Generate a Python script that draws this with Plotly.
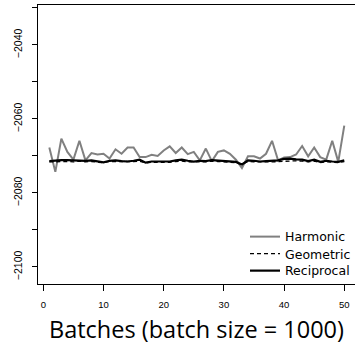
import plotly.graph_objects as go

batches = list(range(1, 51))
harmonic = [-2067.7, -2074.3, -2065.3, -2068.9, -2071.0, -2065.9, -2071.2, -2069.2, -2069.6, -2069.4,
            -2070.7, -2068.2, -2069.4, -2067.7, -2067.7, -2070.3, -2070.3, -2069.7, -2070.0, -2068.5,
            -2067.4, -2069.2, -2067.7, -2069.5, -2068.9, -2071.2, -2068.0, -2071.4, -2068.9, -2068.5,
            -2069.4, -2071.0, -2073.3, -2070.1, -2070.1, -2070.7, -2069.4, -2065.9, -2071.2, -2070.4,
            -2070.3, -2069.6, -2067.3, -2070.1, -2067.7, -2070.3, -2071.0, -2065.9, -2071.6, -2061.8]
geometric = [-2071.6, -2071.5, -2071.4, -2071.5, -2071.6, -2071.4, -2071.6, -2071.5, -2071.7, -2071.8,
             -2071.5, -2071.5, -2071.6, -2071.7, -2071.5, -2071.4, -2071.9, -2071.7, -2071.7, -2071.8,
             -2071.7, -2071.5, -2071.4, -2071.6, -2071.7, -2071.6, -2071.6, -2071.4, -2071.5, -2071.6,
             -2071.7, -2071.8, -2072.3, -2071.5, -2071.6, -2071.7, -2071.6, -2071.6, -2071.5, -2071.3,
             -2071.2, -2071.3, -2071.4, -2071.6, -2071.4, -2071.8, -2071.6, -2071.7, -2071.8, -2071.5]
reciprocal = [-2071.4, -2071.2, -2071.1, -2071.1, -2071.2, -2071.1, -2071.3, -2071.2, -2071.5, -2071.7,
              -2071.3, -2071.2, -2071.4, -2071.5, -2071.3, -2071.0, -2071.8, -2071.5, -2071.5, -2071.6,
              -2071.5, -2071.2, -2071.0, -2071.3, -2071.5, -2071.3, -2071.4, -2071.1, -2071.2, -2071.4,
              -2071.5, -2071.6, -2072.3, -2071.2, -2071.3, -2071.5, -2071.4, -2071.3, -2071.2, -2070.8,
              -2070.7, -2070.9, -2071.0, -2071.4, -2071.0, -2071.6, -2071.3, -2071.5, -2071.6, -2071.2]

x_ticks = [0, 10, 20, 30, 40, 50]
y_ticks = [-2100, -2090, -2080, -2070, -2060, -2050, -2040, -2030]
y_ticktext = ["\u22122100", "", "\u22122080", "", "\u22122060", "", "\u22122040", ""]

fig = go.Figure()
fig.add_trace(go.Scatter(x=batches, y=harmonic, mode="lines", name="Harmonic", legend="legend",
                         line=dict(color="#808080", width=2)))
fig.add_trace(go.Scatter(x=batches, y=geometric, mode="lines", name="Geometric", legend="legend2",
                         line=dict(color="black", width=1.3, dash="4px,3px")))
fig.add_trace(go.Scatter(x=batches, y=reciprocal, mode="lines", name="Reciprocal", legend="legend3",
                         line=dict(color="black", width=2.2)))

leg_common = dict(x=0.653, xanchor="left", yanchor="middle", bgcolor="rgba(0,0,0,0)",
                  font=dict(size=12.5, family="DejaVu Sans", color="black"), itemwidth=30)

fig.update_layout(
    width=355, height=350,
    margin=dict(l=38, r=0, t=5, b=66, autoexpand=False),
    paper_bgcolor="white", plot_bgcolor="white",
    font=dict(family="Liberation Sans, Arial, sans-serif", color="black"),
    showlegend=True,
    legend=dict(y=0.1685, **leg_common),
    legend2=dict(y=0.1075, **leg_common),
    legend3=dict(y=0.0466, **leg_common),
    xaxis=dict(range=[-0.88, 51.78], tickvals=x_ticks, ticks="outside", ticklen=6,
               tickcolor="black", showgrid=False, zeroline=False, showline=True,
               linecolor="black", linewidth=1.2, mirror=True, tickfont=dict(size=9.5),
               ticklabelstandoff=5, automargin=False, ticklabeloverflow="allow"),
    yaxis=dict(range=[-2104.6, -2029.2], tickvals=y_ticks, ticktext=y_ticktext,
               ticks="outside", ticklen=5, tickcolor="black", showgrid=False, zeroline=False,
               showline=True, linecolor="black", linewidth=1.2, tickangle=-90,
               tickfont=dict(size=10.5), ticklabelstandoff=6, automargin=False,
               ticklabeloverflow="allow"),
    annotations=[dict(text="Batches (batch size = 1000)", xref="paper", yref="paper",
                      x=0.5, y=-0.161, xanchor="center", yanchor="middle", showarrow=False,
                      font=dict(size=23.5, family="Open Sans"))],
)

fig.write_html("out.html", config={"displayModeBar": False},
               post_script="document.body.style.margin='0px';")
